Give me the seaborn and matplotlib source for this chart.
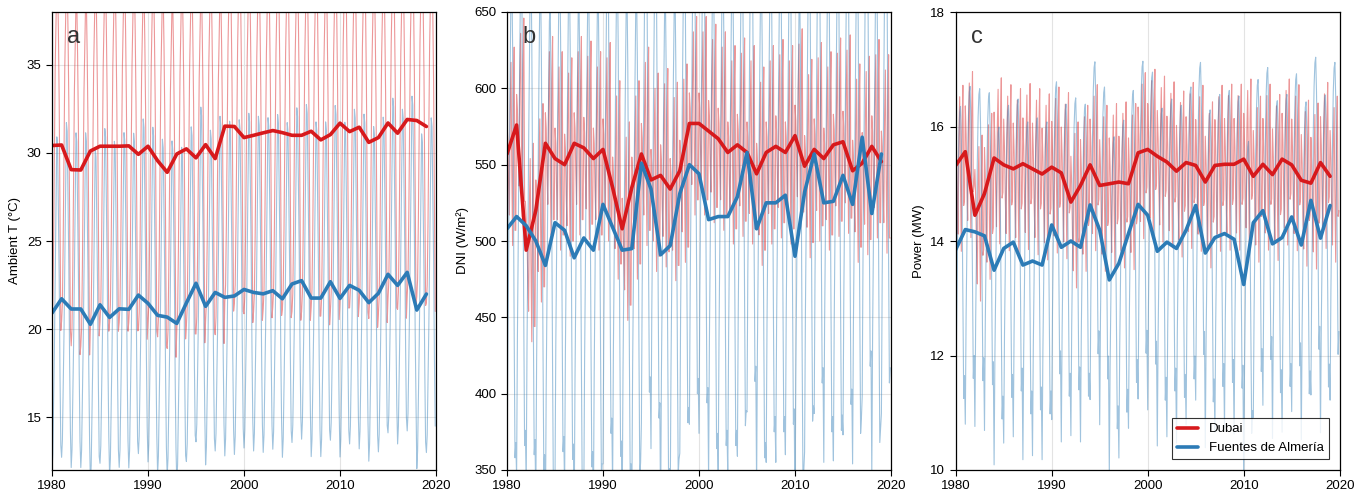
import numpy as np
import pandas as pd
import matplotlib.pyplot as plt
import seaborn as sns

# ----------------------
# Data
# ----------------------
years = list(range(1980, 2020))

# annual means (thick lines)
temp_dubai = [30.42, 30.45, 29.05, 29.03, 30.11, 30.38, 30.38, 30.38, 30.40, 29.92,
              30.38, 29.56, 28.90, 29.94, 30.23, 29.72, 30.47, 29.68, 31.52, 31.50,
              30.87, 31.00, 31.14, 31.27, 31.15, 31.00, 31.00, 31.23, 30.74, 31.04,
              31.69, 31.21, 31.46, 30.60, 30.87, 31.70, 31.12, 31.90, 31.84, 31.50]
temp_almeria = [20.91, 21.72, 21.14, 21.14, 20.27, 21.38, 20.66, 21.15, 21.12, 21.93,
                21.46, 20.78, 20.68, 20.32, 21.48, 22.60, 21.29, 22.08, 21.80, 21.88,
                22.25, 22.08, 22.00, 22.18, 21.72, 22.56, 22.75, 21.76, 21.76, 22.69,
                21.74, 22.48, 22.20, 21.50, 22.03, 23.11, 22.48, 23.22, 21.08, 21.99]

dni_dubai = [557, 576, 494, 520, 564, 554, 550, 564, 561, 554,
             560, 535, 508, 535, 557, 540, 543, 534, 546, 577,
             577, 572, 567, 558, 563, 558, 544, 558, 562, 558,
             569, 549, 560, 554, 563, 565, 546, 551, 562, 552]
dni_almeria = [508, 516, 510, 500, 484, 512, 507, 489, 502, 494,
               524, 509, 494, 495, 551, 534, 491, 497, 531, 550,
               544, 514, 516, 516, 529, 558, 508, 525, 525, 530,
               490, 532, 557, 525, 526, 543, 524, 568, 518, 557]

power_dubai = [15.32, 15.56, 14.45, 14.83, 15.45, 15.33, 15.26, 15.35, 15.26, 15.17,
               15.29, 15.19, 14.68, 14.97, 15.33, 14.97, 15.00, 15.03, 15.00, 15.54,
               15.60, 15.48, 15.38, 15.22, 15.37, 15.32, 15.03, 15.32, 15.34, 15.34,
               15.43, 15.13, 15.34, 15.16, 15.43, 15.33, 15.06, 15.01, 15.37, 15.13]
power_almeria = [13.85, 14.20, 14.16, 14.09, 13.49, 13.87, 13.98, 13.58, 13.65, 13.58,
                 14.28, 13.89, 14.00, 13.89, 14.63, 14.19, 13.32, 13.61, 14.13, 14.64,
                 14.45, 13.82, 13.98, 13.87, 14.19, 14.62, 13.79, 14.06, 14.13, 14.03,
                 13.24, 14.32, 14.53, 13.95, 14.06, 14.42, 13.93, 14.71, 14.05, 14.62]

# typical monthly departure from the annual mean (thin lines), Jan..Dec
temp_dubai_season = [-10.0, -9.0, -5.5, -0.5, 4.5, 7.0, 9.5, 9.5, 6.5, 2.5, -4.0, -10.5]
temp_almeria_season = [-9.0, -8.0, -5.0, -2.0, 2.0, 6.0, 10.0, 9.5, 5.5, 2.0, -3.5, -7.5]
dni_dubai_season = [20, 10, -20, -40, 30, 60, -10, -60, 40, 70, -50, -50]
dni_almeria_season = [-170, -80, -20, 50, 110, 160, 170, 120, 20, -70, -150, -140]
power_dubai_season = [0.8, 0.3, -0.6, -1.2, 0.5, 1.2, -0.3, -1.5, 0.7, 1.4, -0.7, -0.6]
power_almeria_season = [-3.4, -1.5, -0.3, 1.2, 2.0, 2.4, 2.5, 1.9, 0.8, -0.8, -2.6, -2.2]

red = '#d7191c'
blue = '#2c7bb6'


def monthly(annual, season):
    rows = []
    for yr, mean in zip(years, annual):
        for m, dev in enumerate(season):
            rows.append({'t': yr + m / 12, 'v': mean + dev})
    return pd.DataFrame(rows)


panels = [
    ('a', 'Ambient T (°C)', (12, 38), [15, 20, 25, 30, 35],
     temp_dubai, temp_dubai_season, temp_almeria, temp_almeria_season),
    ('b', 'DNI (W/m²)', (350, 650), [350, 400, 450, 500, 550, 600, 650],
     dni_dubai, dni_dubai_season, dni_almeria, dni_almeria_season),
    ('c', 'Power (MW)', (10, 18), [10, 12, 14, 16, 18],
     power_dubai, power_dubai_season, power_almeria, power_almeria_season),
]

# ----------------------
# Plot
# ----------------------
sns.set_theme(style='ticks')
plt.rcParams['font.family'] = ['Liberation Sans', 'DejaVu Sans']

fig = plt.figure(figsize=(13.7, 4.96), dpi=100)
lefts = [52 / 1370, 507 / 1370, 955.7 / 1370]

for left, (tag, ylab, ylim, yticks, d_ann, d_sea, a_ann, a_sea) in zip(lefts, panels):
    ax = fig.add_axes([left, 26 / 496, 384 / 1370, 458 / 496])

    sns.lineplot(data=monthly(d_ann, d_sea), x='t', y='v', ax=ax,
                 color=red, lw=0.8, alpha=0.45)
    sns.lineplot(data=monthly(a_ann, a_sea), x='t', y='v', ax=ax,
                 color=blue, lw=0.8, alpha=0.45)
    sns.lineplot(x=years, y=d_ann, ax=ax, color=red, lw=2.6, label='Dubai')
    sns.lineplot(x=years, y=a_ann, ax=ax, color=blue, lw=2.6, label='Fuentes de Almería')

    ax.set_xlim(1980, 2020)
    ax.set_ylim(*ylim)
    ax.set_xticks([1980, 1990, 2000, 2010, 2020])
    ax.set_yticks(yticks)
    ax.set_xlabel('')
    ax.set_ylabel(ylab, fontsize=9.5, color='black')
    ax.grid(True, color='#e3e3e3', lw=0.8)
    ax.set_axisbelow(True)
    ax.tick_params(direction='out', length=4, width=0.8, labelsize=9.5,
                   color='black', labelcolor='black')
    for s in ax.spines.values():
        s.set_visible(True)
        s.set_color('black')
        s.set_linewidth(0.9)
    ax.text(0.04, 0.945, tag, transform=ax.transAxes, fontsize=17,
            color='#333333', ha='left', va='center')

    if tag == 'c':
        leg = ax.legend(loc='lower right', fontsize=9.5, frameon=True, fancybox=False,
                        handlelength=1.6, borderaxespad=0.8)
        leg.get_frame().set_edgecolor('black')
        leg.get_frame().set_linewidth(0.8)
        for t in leg.get_texts():
            t.set_color('black')
    else:
        ax.get_legend().remove()

fig.savefig('out.png', dpi=100)
